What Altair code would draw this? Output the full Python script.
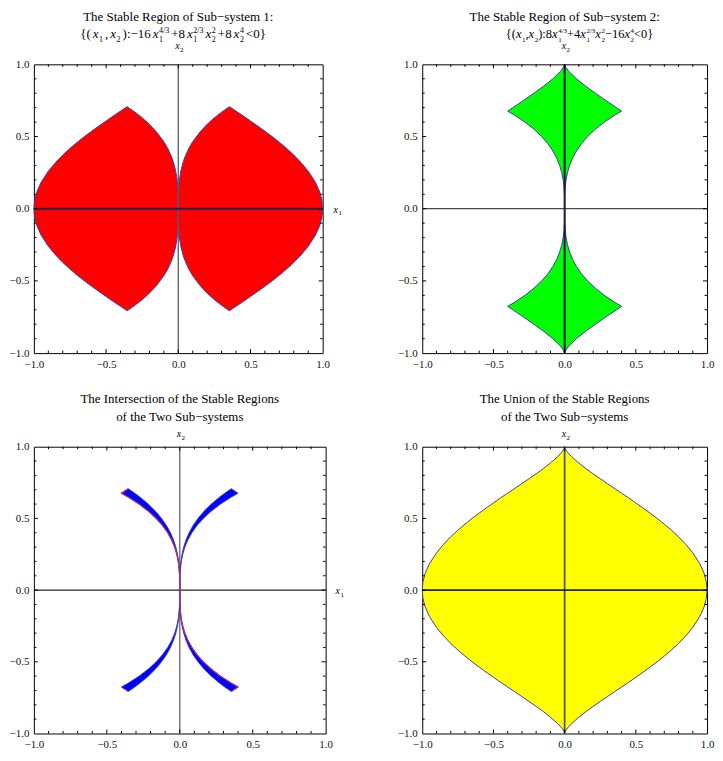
import altair as alt
import pandas as pd

FONT = "Liberation Serif"
FILL_1, FILL_2, FILL_3, FILL_4 = "#ff0000", "#00ff00", "#0000ff", "#ffff00"
BOUND = "#3d3d9e"
EDGE_RED = "#b0306e"

TICK_LABELS = [-1.0, -0.5, 0.0, 0.5, 1.0]
TICK_MAJOR = [-0.5, 0.0, 0.5]
TICK_MINOR = [-0.9, -0.8, -0.7, -0.6, -0.4, -0.3, -0.2, -0.1,
              0.1, 0.2, 0.3, 0.4, 0.6, 0.7, 0.8, 0.9]

# Panel 1 (sub-system 1): half height of the region vs |x1|
P1_X1 = [0, 0.001, 0.003, 0.005, 0.01, 0.02, 0.035, 0.05, 0.075, 0.1, 0.15, 0.2,
         0.25, 0.3, 0.354, 0.4, 0.45, 0.5, 0.55, 0.6, 0.65, 0.7, 0.75, 0.8, 0.85,
         0.9, 0.95, 0.98, 0.995, 1.0]
P1_H = [0, 0.10, 0.144, 0.171, 0.215, 0.271, 0.327, 0.368, 0.422, 0.464, 0.531,
        0.585, 0.630, 0.669, 0.707, 0.676, 0.643, 0.608, 0.573, 0.537, 0.500,
        0.460, 0.418, 0.372, 0.320, 0.260, 0.183, 0.116, 0.058, 0.0]

# Panel 2 (sub-system 2): half width of the region vs |x2|
P2_X2 = [0, 0.1, 0.15, 0.2, 0.25, 0.3, 0.35, 0.4, 0.45, 0.5, 0.55, 0.6, 0.65,
         0.676, 0.7, 0.75, 0.8, 0.85, 0.9, 0.95, 0.98, 1.0]
P2_W = [0, 0.0013, 0.0044, 0.0103, 0.0202, 0.0349, 0.0554, 0.0827, 0.1177,
        0.1615, 0.215, 0.279, 0.355, 0.400, 0.364, 0.289, 0.216, 0.146, 0.083,
        0.030, 0.008, 0.0]

# Panel 3 (intersection): inner / outer |x1| of each band vs |x2|
P3_X2 = [0, 0.1, 0.15, 0.2, 0.25, 0.3, 0.35, 0.4, 0.45, 0.5, 0.55, 0.6, 0.65,
         0.676, 0.69, 0.7, 0.707]
P3_IN = [0, 0.001, 0.0034, 0.008, 0.0156, 0.027, 0.0429, 0.064, 0.0911, 0.125,
         0.1664, 0.216, 0.2746, 0.309, 0.3285, 0.343, 0.3536]
P3_OUT = [0, 0.0013, 0.0044, 0.0103, 0.0202, 0.0349, 0.0554, 0.0827, 0.1177,
          0.1615, 0.215, 0.279, 0.355, 0.400, 0.379, 0.364, 0.3536]

# Panel 4 (union): half height vs |x1|
P4_X1 = [0, 0.001, 0.005, 0.01, 0.02, 0.05, 0.1, 0.15, 0.2, 0.25, 0.3, 0.35, 0.4,
         0.45, 0.5, 0.55, 0.6, 0.65, 0.7, 0.75, 0.8, 0.85, 0.9, 0.95, 0.98, 0.995, 1.0]
P4_H = [1.0, 0.995, 0.985, 0.976, 0.962, 0.930, 0.886, 0.847, 0.811, 0.777, 0.743,
        0.709, 0.676, 0.643, 0.608, 0.573, 0.537, 0.500, 0.460, 0.418, 0.372,
        0.320, 0.260, 0.183, 0.116, 0.058, 0.0]

MINUS = "\u2212"
TITLE_1 = f"The Stable Region of Sub{MINUS}system 1:"
TITLE_2 = f"The Stable Region of Sub{MINUS}system 2:"
TITLE_3 = ["The Intersection of the Stable Regions", f"of the Two Sub{MINUS}systems"]
TITLE_4 = ["The Union of the Stable Regions", f"of the Two Sub{MINUS}systems"]

FORMULA_1 = [("n", "{("), ("i", "x"), ("sub", "1"), ("n", ","), ("i", "x"), ("sub", "2"),
             ("n", f"):{MINUS}16"), ("i", "x"), ("ss", ("4/3", "1")), ("n", "+8"),
             ("i", "x"), ("ss", ("2/3", "1")), ("i", "x"), ("ss", ("2", "2")),
             ("n", "+8"), ("i", "x"), ("ss", ("4", "2")), ("n", "<0}")]
FORMULA_2 = [("n", "{("), ("i", "x"), ("sub", "1"), ("n", ","), ("i", "x"), ("sub", "2"),
             ("n", "):8"), ("i", "x"), ("ss", ("4/3", "1")), ("n", "+4"),
             ("i", "x"), ("ss", ("2/3", "1")), ("i", "x"), ("ss", ("2", "2")),
             ("n", f"{MINUS}16"), ("i", "x"), ("ss", ("4", "2")), ("n", "<0}")]

CW = {"{": 0.48, "}": 0.48, "(": 0.333, ")": 0.333, ",": 0.25, ":": 0.278,
      MINUS: 0.564, "+": 0.564, "<": 0.564, "/": 0.278, "x": 0.444}


def tw(s, size):
    return sum(CW.get(c, 0.5) for c in s) * size


def layout_formula(tokens, right, base, M, S, gap):
    items = []
    x = 0.0
    for kind, val in tokens:
        if kind == "n":
            items.append(("n", val, x, base))
            x += tw(val, M) + gap
        elif kind == "i":
            items.append(("i", val, x, base))
            x += tw(val, M) + 0.6
        elif kind == "sub":
            items.append(("s", val, x, base + 0.28 * M))
            x += tw(val, S) + gap
        else:
            sup, sub = val
            items.append(("s", sup, x, base - 0.42 * M))
            items.append(("s", sub, x, base + 0.28 * M))
            x += max(tw(sup, S), tw(sub, S)) + gap
    total = x - gap
    off = right - total
    return [(k, t, px + off, py) for k, t, px, py in items]


XS = alt.Scale(domain=[-1, 1], nice=False, zero=False)
YS = alt.Scale(domain=[-1, 1], nice=False, zero=False)


def X():
    return alt.X("x:Q", scale=XS, axis=alt.Axis(values=TICK_LABELS, format=".1f"), title=None)


def Y():
    return alt.Y("y:Q", scale=YS, axis=alt.Axis(values=TICK_LABELS, format=".1f"), title=None)


def text_layer(rows, W, H, size, style="normal", align="left"):
    df = pd.DataFrame([{"x": -1 + 2 * px / W, "y": 1 - 2 * py / H, "t": t} for t, px, py in rows])
    return alt.Chart(df).mark_text(font=FONT, fontSize=size, fontStyle=style, align=align,
                                   baseline="alphabetic", color="black").encode(
        x=X(), y=Y(), text="t:N")


def formula_layers(tokens, W, H, right, base, M, S, gap):
    items = layout_formula(tokens, right, base, M, S, gap)
    n = [(t, px, py) for k, t, px, py in items if k == "n"]
    i = [(t, px, py) for k, t, px, py in items if k == "i"]
    s = [(t, px, py) for k, t, px, py in items if k == "s"]
    return [text_layer(n, W, H, M), text_layer(i, W, H, M, "italic"), text_layer(s, W, H, S)]


def axis_label_layers(W, H, x2pos, x1pos):
    it, sb = [], []
    if x2pos is not None:
        px, py = x2pos
        it.append(("x", px - 3, py))
        sb.append(("2", px + 1.8, py + 2.5))
    if x1pos is not None:
        px, py = x1pos
        it.append(("x", px, py))
        sb.append(("1", px + 4.8, py + 2.5))
    return [text_layer(it, W, H, 10, "italic"), text_layer(sb, W, H, 7)]


def tick_layer(W, H, Lmaj=4.0, Lmin=2.5):
    rows = []
    for vals, L in ((TICK_MAJOR, Lmaj), (TICK_MINOR, Lmin)):
        dy = 2 * L / H
        dx = 2 * L / W
        for v in vals:
            rows.append({"x": v, "x2": v, "y": -1, "y2": -1 + dy})
            rows.append({"x": v, "x2": v, "y": 1, "y2": 1 - dy})
            rows.append({"x": -1, "x2": -1 + dx, "y": v, "y2": v})
            rows.append({"x": 1, "x2": 1 - dx, "y": v, "y2": v})
    return alt.Chart(pd.DataFrame(rows)).mark_rule(color="black", strokeWidth=1).encode(
        x=X(), x2="x2:Q", y=Y(), y2="y2:Q")


def axis_line(orient, color, width):
    if orient == "h":
        df = pd.DataFrame([{"x": -1, "x2": 1, "y": 0, "y2": 0}])
    else:
        df = pd.DataFrame([{"x": 0, "x2": 0, "y": -1, "y2": 1}])
    return alt.Chart(df).mark_rule(color=color, strokeWidth=width).encode(
        x=X(), x2="x2:Q", y=Y(), y2="y2:Q")


def vertical_area(xs, hs, fill):
    rows = []
    for x, h in zip(xs, hs):
        rows.append({"x": x, "y": -h, "y2": h})
        if x > 0:
            rows.append({"x": -x, "y": -h, "y2": h})
    df = pd.DataFrame(rows).sort_values("x")
    return alt.Chart(df).mark_area(fill=fill, fillOpacity=1, stroke=BOUND, strokeWidth=1,
                                   orient="vertical").encode(
        x=X(), y=Y(), y2="y2:Q")


# ---------- panel 1 ----------
W1, H1 = 290, 290
p1 = alt.layer(
    vertical_area(P1_X1, P1_H, FILL_1),
    axis_line("v", "#5a5a6a", 1.3),
    axis_line("h", "#1c1c55", 2.0),
    tick_layer(W1, H1),
    text_layer([(TITLE_1, W1 / 2, -44)], W1, H1, 13, align="center"),
    *formula_layers(FORMULA_1, W1, H1, 233, -26, 13, 8, 2.0),
    *axis_label_layers(W1, H1, (W1 / 2, -15), (W1 + 11, H1 / 2 + 4)),
).properties(width=W1, height=H1)

# ---------- panel 2 ----------
W2, H2 = 286, 290
rows2 = []
for y, w in zip(P2_X2, P2_W):
    rows2.append({"y": y, "x": -w, "x2": w})
    if y > 0:
        rows2.append({"y": -y, "x": -w, "x2": w})
area2 = alt.Chart(pd.DataFrame(rows2).sort_values("y")).mark_area(
    fill=FILL_2, fillOpacity=1, stroke=BOUND, strokeWidth=1, orient="horizontal").encode(
    x=X(), x2="x2:Q", y=Y())

p2 = alt.layer(
    area2,
    axis_line("h", "#4a4a4a", 1.3),
    axis_line("v", "#1c1c40", 2.0),
    tick_layer(W2, H2),
    text_layer([(TITLE_2, W2 / 2, -44)], W2, H2, 13, align="center"),
    *formula_layers(FORMULA_2, W2, H2, 232, -26, 12.5, 7, 0.0),
    *axis_label_layers(W2, H2, (W2 / 2, -15), None),
).properties(width=W2, height=H2)

# ---------- panel 3 ----------
W3, H3 = 293, 288
rows3 = []
for y, a, b in zip(P3_X2, P3_IN, P3_OUT):
    rows3.append({"band": "ur", "y": y, "x": a, "x2": b})
    rows3.append({"band": "ul", "y": y, "x": -b, "x2": -a})
    rows3.append({"band": "lr", "y": -y, "x": a, "x2": b})
    rows3.append({"band": "ll", "y": -y, "x": -b, "x2": -a})
area3 = alt.Chart(pd.DataFrame(rows3).sort_values("y")).mark_area(
    fill=FILL_3, fillOpacity=1, stroke="#3c3cb4", strokeWidth=1, orient="horizontal").encode(
    x=X(), x2="x2:Q", y=Y(), detail="band:N")
red_rows = []
for y, b in zip(P3_X2, P3_OUT):
    red_rows.append({"band": "ul", "x": -b, "y": y})
    red_rows.append({"band": "lr", "x": b, "y": -y})
red3 = alt.Chart(pd.DataFrame(red_rows)).mark_line(color=EDGE_RED, strokeWidth=1.2).encode(
    x=X(), y=Y(), detail="band:N", order=alt.Order("y:Q"))

p3 = alt.layer(
    axis_line("v", "#666666", 1.3),
    axis_line("h", "#222222", 1.1),
    area3,
    red3,
    tick_layer(W3, H3),
    text_layer([(TITLE_3[0], W3 / 2, -43.5), (TITLE_3[1], W3 / 2, -26)], W3, H3, 13, align="center"),
    *axis_label_layers(W3, H3, (W3 / 2, -9.5), (W3 + 10, H3 / 2 + 4)),
).properties(width=W3, height=H3)

# ---------- panel 4 ----------
W4, H4 = 286, 288
p4 = alt.layer(
    vertical_area(P4_X1, P4_H, FILL_4),
    axis_line("v", "#555555", 1.8),
    axis_line("h", "#222222", 1.8),
    tick_layer(W4, H4),
    text_layer([(TITLE_4[0], W4 / 2, -43.5), (TITLE_4[1], W4 / 2, -26)], W4, H4, 13, align="center"),
    *axis_label_layers(W4, H4, (W4 / 2, -9.5), None),
).properties(width=W4, height=H4)

top = alt.hconcat(p1, p2, spacing=54)
bottom = alt.hconcat(p3, p4, spacing=52)
chart = alt.vconcat(top, bottom, spacing=23).properties(
    padding={"left": 0, "top": 0, "right": 0, "bottom": 0}
).configure_view(
    stroke="black", strokeWidth=1
).configure_axis(
    ticks=False, domain=False, grid=False, labelFont=FONT, labelFontSize=11,
    labelColor="#111111", labelPadding=5, labelFlush=False, labelOverlap=False
)

chart.save("out.html", embed_options={"renderer": "svg", "actions": False})
